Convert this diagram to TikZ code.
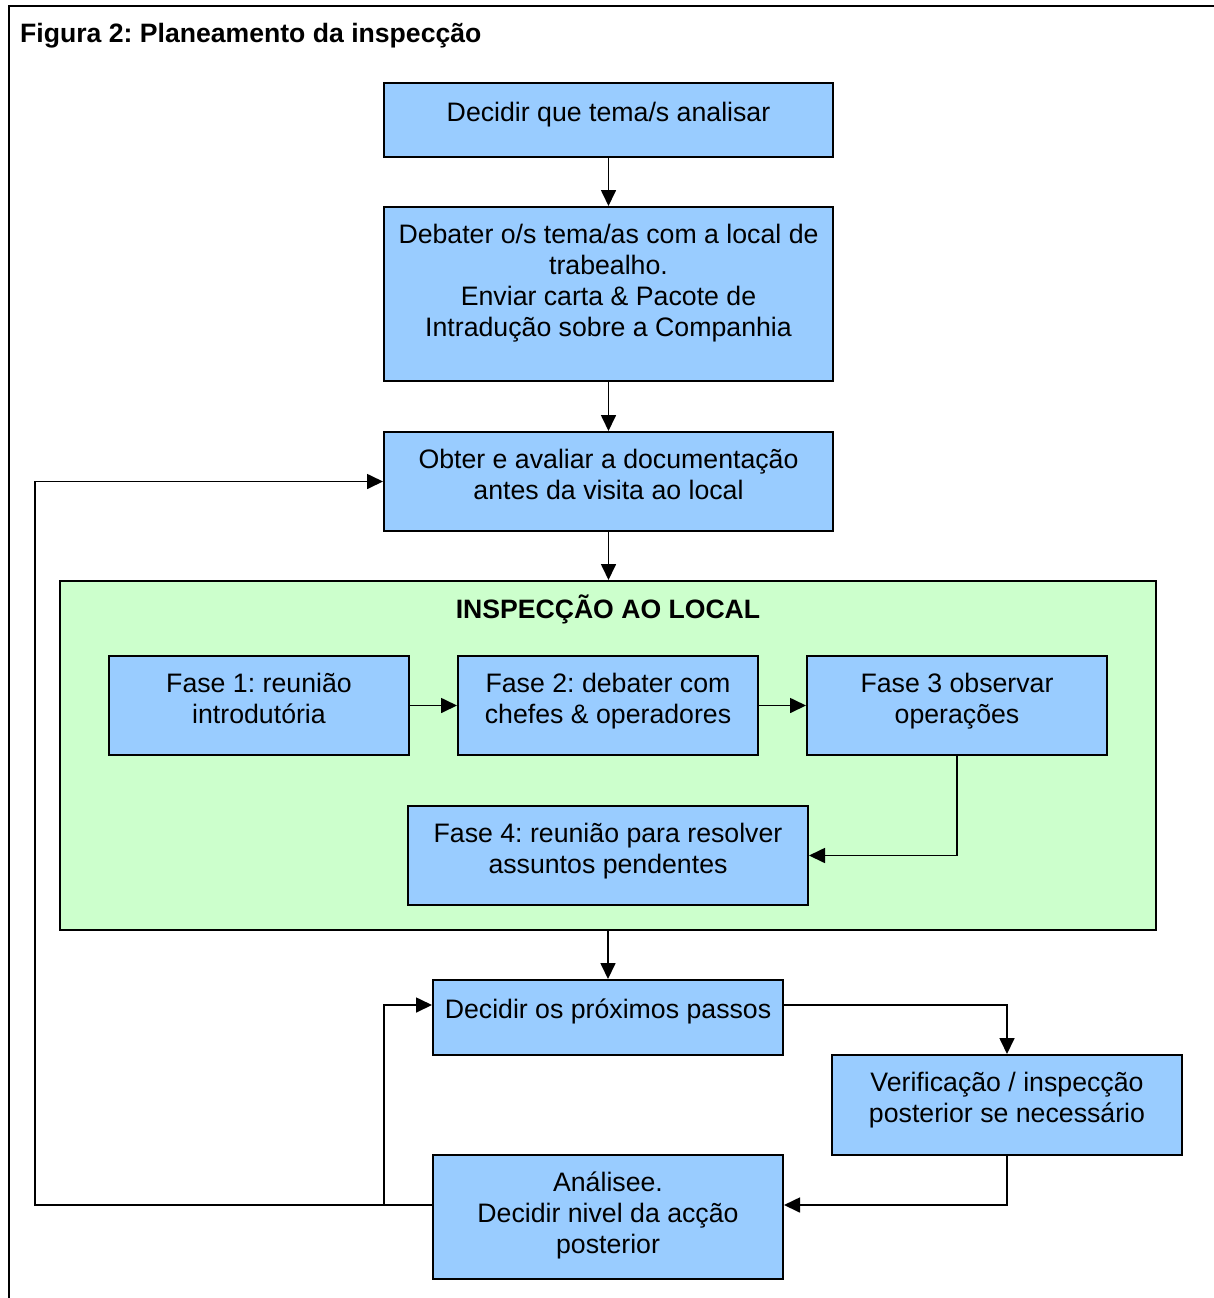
\documentclass[tikz,border=0pt]{standalone}
\usepackage{fontspec}
\setmainfont{Liberation Sans}
\usetikzlibrary{arrows.meta}
\frenchspacing
\definecolor{boxblue}{HTML}{99CCFF}
\definecolor{zonegreen}{HTML}{CCFFCC}
\tikzset{
  bluebox/.style={draw=black, line width=2pt, fill=boxblue, inner sep=0pt},
  greenzone/.style={draw=black, line width=2pt, fill=zonegreen, inner sep=0pt},
  boxtext/.style={inner sep=0pt, align=center,
    font=\fontsize{26.7}{31}\selectfont, execute at begin node=\strut},
  arr/.style={draw=black, line width=1.7pt,
    -{Triangle[length=16pt,width=15pt]}},
  wire/.style={draw=black, line width=1.7pt},
}
% box: name, x1, y1, x2, y2, label
\newcommand\flowbox[7][bluebox]{%
  \node[#1, minimum width={#5-#3}, minimum height={#6-#4}]
    (#2) at ({(#3+#5)/2},{(#4+#6)/2}) {};
  \node[boxtext, anchor=north] (#2-t) at ([yshift=-17.5pt]#2.north) {#7};
}
\begin{document}
\begin{tikzpicture}[x=1pt,y=-1pt]
\useasboundingbox (0,0) rectangle (1213,1298);
% outer frame, open to the right and below
\draw[line width=2.5pt] (9,1300) -- (9,6) -- (1216,6);
\node[anchor=base west, inner sep=0pt, font=\bfseries\fontsize{26.6}{31}\selectfont]
  (title) at (20,43) {Figura 2: Planeamento da inspecção};

\flowbox{b1}{384}{83}{833}{157}{Decidir que tema/s analisar}
\flowbox{b2}{384}{207}{833}{381}{Debater o/s tema/as com a local de\\ trabealho.\\ Enviar carta \& Pacote de\\ Intradução sobre a Companhia}
\flowbox{b3}{384}{432}{833}{531}{Obter e avaliar a documentação\\ antes da visita ao local}

% on-site inspection zone
\node[greenzone, minimum width=1096, minimum height=349] (zone) at (608,755.5) {};
\node[inner sep=0pt, font=\bfseries\fontsize{26.6}{31}\selectfont, anchor=base]
  (zone-t) at (608,618) {INSPECÇÃO AO LOCAL};

\flowbox{f1}{109}{656}{409}{755}{Fase 1: reunião\\ introdutória}
\flowbox{f2}{458}{656}{758}{755}{Fase 2: debater com\\ chefes \& operadores}
\flowbox{f3}{807}{656}{1107}{755}{Fase 3 observar\\ operações}
\flowbox{f4}{408}{806}{808}{905}{Fase 4: reunião para resolver\\ assuntos pendentes}

\flowbox{dp}{433}{980}{783}{1055}{Decidir os próximos passos}
\flowbox{vf}{832}{1055}{1182}{1155}{Verificação / inspecção\\ posterior se necessário}
\flowbox{an}{433}{1155}{783}{1279}{Análisee.\\ Decidir nivel da acção\\ posterior}

% main sequence
\draw[arr] (b1.south) -- (b2.north);
\draw[arr] (b2.south) -- (b3.north);
\draw[arr] (b3.south) -- (b3.south |- zone.north);
\draw[arr] (f1.east) -- (f2.west);
\draw[arr] (f2.east) -- (f3.west);
\draw[arr] (f3.south) |- (f4.east);
\draw[arr] (zone.south) -- (dp.north);
\draw[arr] ([yshift=12.5pt]dp.east) -| (vf.north);
\draw[arr] (vf.south) |- ([yshift=12pt]an.east);

% feedback loops
\coordinate (loopfar) at (35,1205);
\coordinate (loopnear) at (384,1205);
\draw[wire] ([yshift=12pt]an.west) -- (loopnear);
\draw[arr] (loopnear) -- (loopfar) |- (b3.west);
\draw[arr] (loopnear) |- ([yshift=12.5pt]dp.west);
\end{tikzpicture}
\end{document}
